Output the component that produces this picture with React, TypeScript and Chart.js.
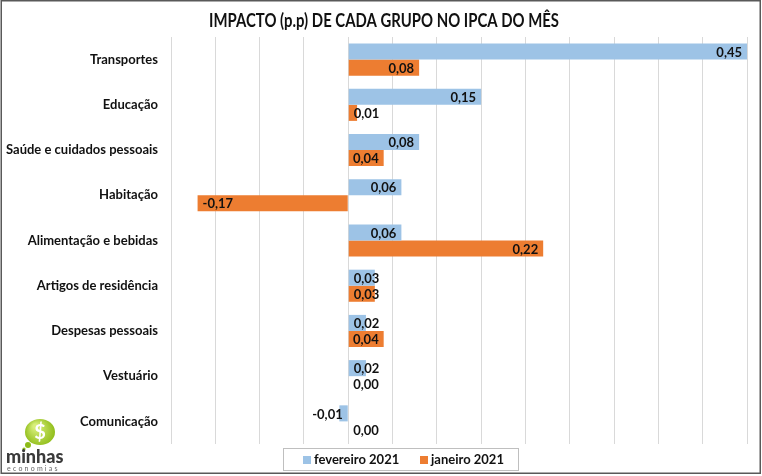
import React, { useEffect, useRef } from "react";
import { Chart, registerables } from "chart.js";

Chart.register(...registerables);

const categories = [
  "Transportes",
  "Educação",
  "Saúde e cuidados pessoais",
  "Habitação",
  "Alimentação e bebidas",
  "Artigos de residência",
  "Despesas pessoais",
  "Vestuário",
  "Comunicação",
];
const fevereiro2021 = [0.45, 0.15, 0.08, 0.06, 0.06, 0.03, 0.02, 0.02, -0.01];
const janeiro2021 = [0.08, 0.01, 0.04, -0.17, 0.22, 0.03, 0.04, 0.0, 0.0];
const seriesLabels = ["fevereiro 2021", "janeiro 2021"];
const titleText = "IMPACTO (p.p) DE CADA GRUPO NO IPCA DO MÊS";

const BLUE = "#9DC3E6";
const ORANGE = "#ED7D31";
const FONT = "Lato, 'Open Sans', sans-serif";

const fmt = (v: number) => v.toFixed(2).replace(".", ",");

const dataLabelPlugin = {
  id: "dataLabels",
  afterDatasetsDraw(chart: any) {
    const ctx = chart.ctx;
    ctx.save();
    ctx.font = `bold 13px ${FONT}`;
    ctx.fillStyle = "#111";
    ctx.textBaseline = "middle";
    const pad = 5;
    chart.data.datasets.forEach((ds: any, di: number) => {
      const meta = chart.getDatasetMeta(di);
      meta.data.forEach((el: any, i: number) => {
        const v = ds.data[i];
        const txt = fmt(v);
        const w = ctx.measureText(txt).width;
        const len = Math.abs(el.x - el.base);
        const y = el.y + 1;
        if (v >= 0) {
          if (len >= w + pad + 2) {
            ctx.textAlign = "right";
            ctx.fillText(txt, el.x - pad, y);
          } else {
            ctx.textAlign = "left";
            ctx.fillText(txt, el.base + pad, y);
          }
        } else {
          if (len >= w + pad + 2) {
            ctx.textAlign = "left";
            ctx.fillText(txt, el.x + pad, y);
          } else {
            ctx.textAlign = "right";
            ctx.fillText(txt, el.base - pad, y);
          }
        }
      });
    });
    ctx.restore();
  },
};

const decorPlugin = {
  id: "decor",
  afterDraw(chart: any) {
    const ctx = chart.ctx;
    ctx.save();
    // outer frame
    ctx.strokeStyle = "#595959";
    ctx.lineWidth = 1.5;
    ctx.strokeRect(1.25, 0.75, 759, 472.5);

    // title (condensed to match the original's narrow face)
    ctx.save();
    ctx.font = `bold 18px ${FONT}`;
    const tw = ctx.measureText(titleText).width;
    const targetW = 350;
    const sx = targetW / tw;
    ctx.translate(384, 21);
    ctx.scale(sx, 1);
    ctx.fillStyle = "#111";
    ctx.textAlign = "center";
    ctx.textBaseline = "middle";
    ctx.fillText(titleText, 0, 0);
    ctx.restore();

    // legend
    const lx = 283, ly = 448, lw = 235, lh = 22;
    ctx.fillStyle = "#fff";
    ctx.fillRect(lx, ly, lw, lh);
    ctx.strokeStyle = "#bfbfbf";
    ctx.lineWidth = 1;
    ctx.strokeRect(lx + 0.5, ly + 0.5, lw, lh);
    ctx.font = `bold 13px ${FONT}`;
    ctx.textBaseline = "middle";
    ctx.textAlign = "left";
    const cy = ly + lh / 2 + 1;
    const items = [
      { x: 303, color: BLUE, label: seriesLabels[0] },
      { x: 420, color: ORANGE, label: seriesLabels[1] },
    ];
    items.forEach((it) => {
      ctx.fillStyle = it.color;
      ctx.fillRect(it.x, cy - 4, 8, 8);
      ctx.fillStyle = "#111";
      ctx.fillText(it.label, it.x + 11, cy);
    });

    // logo
    const bx = 40, by = 432;
    const g = ctx.createRadialGradient(bx - 5, by - 6, 2, bx, by, 16);
    g.addColorStop(0, "#d8ef7a");
    g.addColorStop(1, "#8dbb16");
    ctx.fillStyle = g;
    ctx.beginPath();
    ctx.ellipse(bx, by, 15, 13, 0, 0, Math.PI * 2);
    ctx.fill();
    ctx.beginPath();
    ctx.arc(bx - 12, by + 13, 3, 0, Math.PI * 2);
    ctx.fill();
    ctx.beginPath();
    ctx.arc(bx - 16, by + 17, 1.6, 0, Math.PI * 2);
    ctx.fill();
    ctx.fillStyle = "#fff";
    ctx.font = `bold 20px ${FONT}`;
    ctx.textAlign = "center";
    ctx.textBaseline = "middle";
    ctx.fillText("$", bx, by + 1);
    ctx.fillStyle = "#3a3a3a";
    ctx.font = `900 18px ${FONT}`;
    ctx.textAlign = "left";
    ctx.textBaseline = "alphabetic";
    ctx.fillText("minhas", 6, 463);
    ctx.fillStyle = "#666";
    ctx.font = `7px ${FONT}`;
    const eco = "economias";
    let ex = 7;
    for (const ch of eco) {
      ctx.fillText(ch, ex, 471);
      ex += ctx.measureText(ch).width + 2.2;
    }
    ctx.restore();
  },
};

export default function App() {
  const ref = useRef<HTMLCanvasElement>(null);
  useEffect(() => {
    document.body.style.margin = "0";
    const chart = new Chart(ref.current as HTMLCanvasElement, {
      type: "bar",
      data: {
        labels: categories,
        datasets: [
          {
            label: seriesLabels[0],
            data: fevereiro2021,
            backgroundColor: BLUE,
            categoryPercentage: 0.71,
            barPercentage: 1,
          },
          {
            label: seriesLabels[1],
            data: janeiro2021,
            backgroundColor: ORANGE,
            categoryPercentage: 0.71,
            barPercentage: 1,
          },
        ],
      },
      options: {
        indexAxis: "y",
        animation: false,
        responsive: false,
        maintainAspectRatio: false,
        layout: { padding: { left: 3, right: 15, top: 37, bottom: 32 } },
        plugins: {
          legend: { display: false },
          tooltip: { enabled: false },
          title: { display: false },
        },
        scales: {
          x: {
            min: -0.2,
            max: 0.45,
            ticks: { display: false, stepSize: 0.05 },
            grid: { color: "#d9d9d9", drawTicks: false, lineWidth: 1 },
            border: { display: false },
          },
          y: {
            ticks: {
              color: "#111",
              font: { family: FONT, size: 13, weight: "bold" },
              padding: 13,
            },
            grid: { display: false, drawTicks: false },
            border: { display: false },
            afterFit: (s: any) => {
              s.width = 168;
            },
          },
        },
      },
      plugins: [dataLabelPlugin, decorPlugin],
    });
    return () => chart.destroy();
  }, []);
  return (
    <div style={{ width: 762, height: 476, background: "#fff" }}>
      <canvas ref={ref} width={762} height={476} />
    </div>
  );
}
